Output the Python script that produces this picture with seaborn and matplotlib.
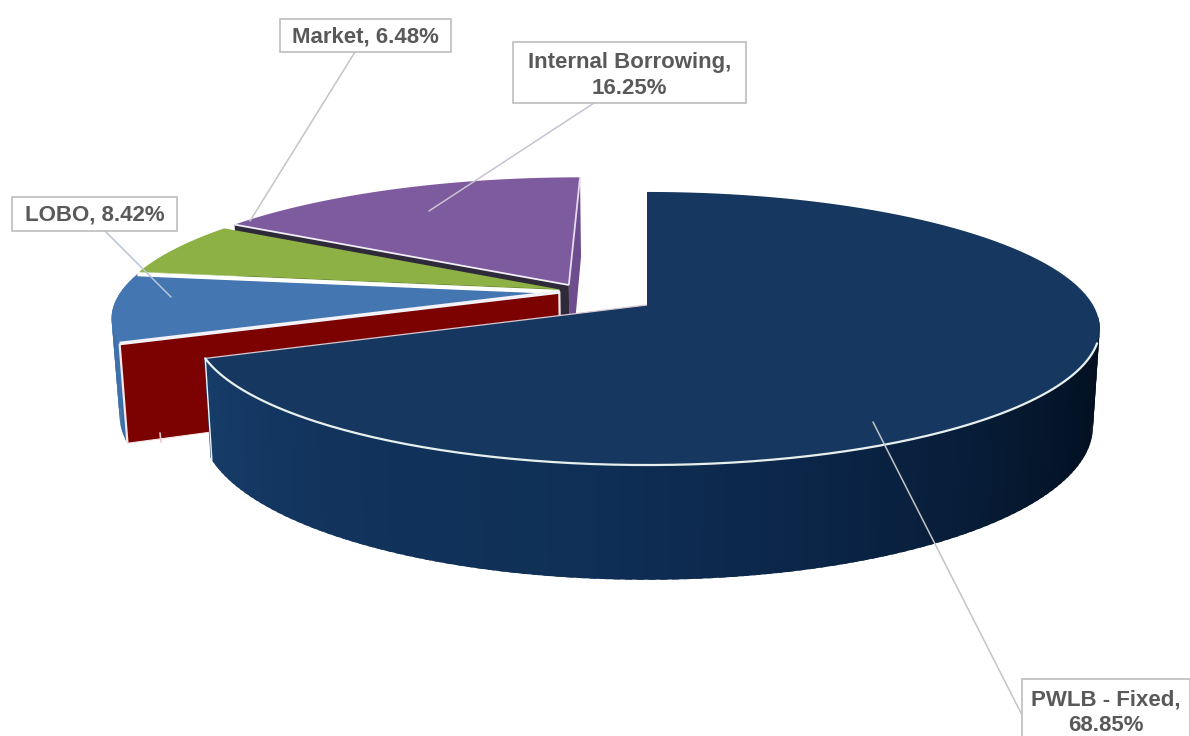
import itertools
import numpy as np
import matplotlib
matplotlib.use("Agg")
import matplotlib.pyplot as plt
from matplotlib.patches import Rectangle
import seaborn as sns

# Debt portfolio shares, clockwise from twelve o'clock
categories = ["PWLB - Fixed", "LOBO", "Market", "Internal Borrowing"]
shares = [68.85, 8.42, 6.48, 16.25]
share_text = ["68.85%", "8.42%", "6.48%", "16.25%"]

# Pull-out of each slice in disc units (sideways, depthwise)
pull_u = [0.0, -0.20, -0.20, -0.18]
pull_v = [0.0, -0.10, -0.12, -0.155]

top_colors = ["#16375f", "#4476b2", "#8db144", "#7e5a9f"]
RED_FACE = "#7c0202"
DARK_FACE = "#2f2a3a"
PURPLE_FACE = "#6d4d8e"
TEXT = "#595959"
LEAD = "#c4c4c4"

# Camera parameters for the tilted disc
CX, CY = 647, 305
RADIUS, TILT, PERSP = 446, 132.5, 0.172
THICK, SHRINK = 95, 0.015

sns.set_theme(style="white")
plt.rcParams["font.family"] = ["Liberation Sans", "DejaVu Sans"]

fig = plt.figure(figsize=(11.9, 7.36), dpi=100)
ax = fig.add_axes([0, 0, 1, 1])
ax.set_xlim(0, 1190)
ax.set_ylim(736, 0)
ax.axis("off")

# Faces are painted back to front, so every mark takes the next layer
layer = itertools.count(1)


def project(u, v, lower=False):
    s = 1.0 / (1.0 - PERSP * v)
    x = CX + RADIUS * u * s
    y = CY + TILT * v * s
    if lower:
        x = CX + (x - CX) * (1 - SHRINK)
        y = y + THICK * s
    return x, y


def rim(start, stop, idx, n=120):
    t = np.radians(np.linspace(start, stop, n))
    return np.sin(t) + pull_u[idx], -np.cos(t) + pull_v[idx]


def top_face(start, stop, idx):
    u, v = rim(start, stop, idx)
    u = np.r_[pull_u[idx], u]
    v = np.r_[pull_v[idx], v]
    return project(u, v)


def outer_wall(start, stop, idx, colors, n=120):
    edges = np.linspace(start, stop, n + 1)
    shades = sns.blend_palette(colors, n)
    for a, b, c in zip(edges[:-1], edges[1:], shades):
        u, v = rim(a, b + (stop - start) / n * 0.6, idx, 3)
        xt, yt = project(u, v)
        xb, yb = project(u, v, lower=True)
        ax.fill(np.r_[xt, xb[::-1]], np.r_[yt, yb[::-1]], color=c, lw=0, zorder=next(layer))


def cut_wall(angle, idx, color, edge=None, lw=1.5):
    t = np.radians(angle)
    u = np.array([pull_u[idx], np.sin(t) + pull_u[idx]])
    v = np.array([pull_v[idx], -np.cos(t) + pull_v[idx]])
    xt, yt = project(u, v)
    xb, yb = project(u, v, lower=True)
    ax.fill(np.r_[xt, xb[::-1]], np.r_[yt, yb[::-1]], color=color, lw=0, zorder=next(layer))
    if edge:
        ax.plot([xt[1], xb[1]], [yt[1], yb[1]], color=edge, lw=lw, solid_capstyle="butt", zorder=next(layer))
        ax.plot([xb[0], xb[1]], [yb[0], yb[1]], color=edge, lw=0.8, zorder=next(layer))
        ax.plot([xt[0], xb[0]], [yt[0], yb[0]], color=edge, lw=lw, zorder=next(layer))


def cut_edge(angle, idx, color="white", lw=2.0):
    t = np.radians(angle)
    u = np.array([pull_u[idx], np.sin(t) + pull_u[idx]])
    v = np.array([pull_v[idx], -np.cos(t) + pull_v[idx]])
    x, y = project(u, v)
    ax.plot(x, y, color=color, lw=lw, solid_capstyle="butt", zorder=next(layer))


def flat_top(start, stop, idx):
    ax.fill(*top_face(start, stop, idx), color=top_colors[idx], lw=0, zorder=next(layer))


# Slice boundaries in degrees
bounds = np.r_[0, np.cumsum(shares)] * 3.6

# Internal Borrowing sits furthest back
cut_wall(360, 3, PURPLE_FACE)
cut_wall(bounds[3], 3, DARK_FACE)
flat_top(bounds[3], 360, 3)
cut_edge(360, 3, "#e6dcf0", 1.3)
cut_edge(bounds[3], 3, "#f2eef6", 1.3)

# Market
cut_wall(bounds[2], 2, top_colors[2])
flat_top(bounds[2], bounds[3], 2)

# LOBO with its outer wall and red cut face
outer_wall(bounds[1], bounds[2], 1, ["#3a6ca6", "#4476b2"], n=30)
cut_wall(bounds[1], 1, RED_FACE, edge="#f6e6e6", lw=1.6)
flat_top(bounds[1], bounds[2], 1)
cut_edge(bounds[2], 1, "white", 3.0)
cut_edge(bounds[1], 1, "#f2f2f8", 2.6)
ax.plot([160, 161], [433, 442], color="#e8c8c8", lw=1.2, zorder=next(layer))

# PWLB: outer wall shaded right to left, then the flat top with a light rim
outer_wall(95, bounds[1], 0, ["#020d1c", "#04162b", "#0a2344", "#0f2f56", "#11335c", "#163c68"])
flat_top(0, bounds[1], 0)
rim_x, rim_y = project(*rim(106, bounds[1], 0, 200))
ax.plot(rim_x, rim_y, color="#e8f0ee", lw=1.6, solid_capstyle="round", zorder=next(layer))
cut_edge(bounds[1], 0, "#d8c8d0", 0.9)
top_x, top_y = project(*rim(bounds[1] - 0.01, bounds[1], 0, 2))
low_x, low_y = project(*rim(bounds[1] - 0.01, bounds[1], 0, 2), lower=True)
ax.plot([top_x[-1], low_x[-1]], [top_y[-1], low_y[-1]], color="#f0f4f8", lw=1.0, zorder=next(layer))

# Leader lines running from the slices to their labels
ax.plot([1022, 873], [715, 422], color=LEAD, lw=1.1, zorder=next(layer))
ax.plot([355, 250], [52, 221], color=LEAD, lw=1.1, zorder=next(layer))
ax.plot([594, 429], [103, 211], color="#c8c2d2", lw=1.1, zorder=next(layer))
ax.plot([105, 171], [231, 297], color="#b9c6d6", lw=1.1, zorder=next(layer))

# Label boxes
boxes = [(1022, 679, 168, 62), (12, 197, 165, 34), (280, 19, 171, 33), (513, 42, 233, 61)]
wrapped = [True, False, False, True]
for name, pct, (bx, by, bw, bh), wrap in zip(categories, share_text, boxes, wrapped):
    ax.add_patch(Rectangle((bx, by), bw, bh, facecolor="white", edgecolor="#bdbdbd", lw=1.2, zorder=next(layer)))
    label = f"{name},\n{pct}" if wrap else f"{name}, {pct}"
    ax.text(bx + bw / 2, by + bh / 2 + (3 if wrap else 1), label, ha="center", va="center",
            fontsize=16, fontweight="bold", color=TEXT, linespacing=1.3, zorder=next(layer))

fig.savefig("out.png", dpi=100, facecolor="white")
